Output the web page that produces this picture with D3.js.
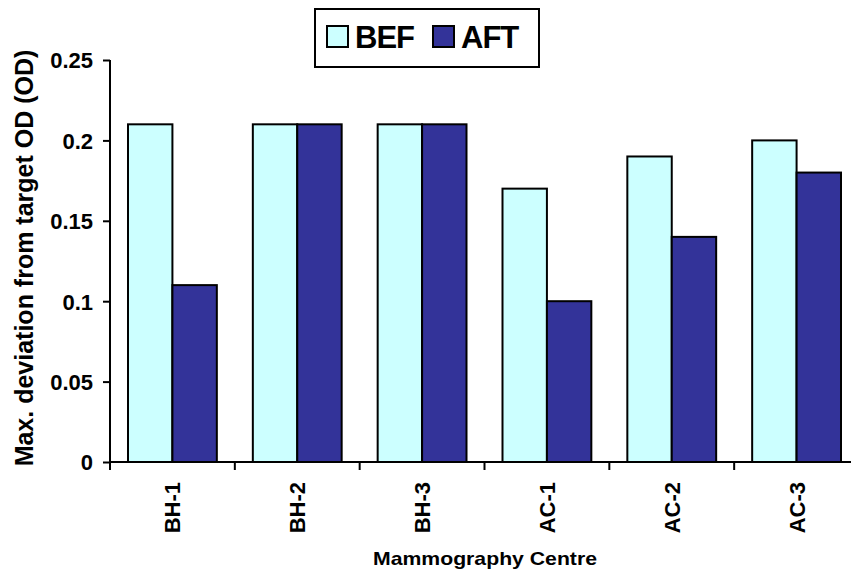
<!DOCTYPE html>
<html>
<head>
<meta charset="utf-8">
<script src="https://cdn.jsdelivr.net/npm/d3@7"></script>
<style>
  html, body { margin: 0; padding: 0; background: #fff; }
  svg { display: block; font-family: "Liberation Sans", Arial, sans-serif; font-weight: bold; }
</style>
</head>
<body>
<svg id="chart" width="851" height="569"></svg>
<script>
// Mammography centres and the maximum deviation from target optical density
const categories = ["BH-1", "BH-2", "BH-3", "AC-1", "AC-2", "AC-3"];
const seriesNames = ["BEF", "AFT"];
const befValues = [0.21, 0.21, 0.21, 0.17, 0.19, 0.20];
const aftValues = [0.11, 0.21, 0.21, 0.10, 0.14, 0.18];
const yTicks = [0, 0.05, 0.1, 0.15, 0.2, 0.25];
const yTickLabels = ["0", "0.05", "0.1", "0.15", "0.2", "0.25"];
const colors = ["#CCFFFF", "#333399"];

const rows = categories.map((c, i) => ({ cat: c, values: [befValues[i], aftValues[i]] }));

const svg = d3.select("#chart");
const plot = { left: 110, right: 859, top: 60, bottom: 462 };

const x = d3.scaleBand().domain(categories).range([plot.left, plot.right]).padding(0);
const groupPad = 18;
const xs = d3.scaleBand().domain(seriesNames)
  .range([groupPad, x.bandwidth() - groupPad]).padding(0);
const y = d3.scaleLinear().domain([0, 0.25]).range([plot.bottom, plot.top]);

// bars
const groups = svg.append("g").selectAll("g").data(rows).join("g")
  .attr("transform", d => `translate(${x(d.cat)},0)`);
groups.selectAll("rect")
  .data(d => d.values.map((v, k) => ({ name: seriesNames[k], v, k })))
  .join("rect")
  .attr("x", d => xs(d.name))
  .attr("width", xs.bandwidth())
  .attr("y", d => y(d.v))
  .attr("height", d => y(0) - y(d.v))
  .attr("fill", d => colors[d.k])
  .attr("stroke", "#000")
  .attr("stroke-width", 2);

// y axis
const yAxis = d3.axisLeft(y).tickValues(yTicks)
  .tickFormat((d, i) => yTickLabels[i]).tickSize(7).tickPadding(10);
const gy = svg.append("g").attr("transform", `translate(${plot.left},0)`).call(yAxis);
gy.select(".domain").attr("stroke", "#000").attr("stroke-width", 2)
  .attr("d", `M0,${plot.top}V${plot.bottom}`);
gy.selectAll(".tick line").attr("stroke", "#000").attr("stroke-width", 2);
gy.selectAll(".tick text").attr("fill", "#000")
  .style("font-size", "22px").style("font-weight", "bold")
  .style("font-family", "'Liberation Sans', Arial, sans-serif")
  .attr("dy", "0.36em");

// x axis: ticks on category boundaries
const gx = svg.append("g").attr("transform", `translate(0,${plot.bottom})`);
gx.append("line").attr("x1", plot.left).attr("x2", plot.right)
  .attr("stroke", "#000").attr("stroke-width", 2);
const bounds = categories.map(c => x(c)).concat([x(categories[categories.length - 1]) + x.bandwidth()]);
gx.selectAll(".bt").data(bounds).join("line").attr("class", "bt")
  .attr("x1", d => d).attr("x2", d => d).attr("y1", 0).attr("y2", 8)
  .attr("stroke", "#000").attr("stroke-width", 2);
gx.selectAll(".cl").data(categories).join("text").attr("class", "cl")
  .attr("transform", d => `translate(${x(d) + x.bandwidth() / 2},20) rotate(-90)`)
  .attr("text-anchor", "end").attr("dy", "0.36em")
  .style("font-size", "22px").text(d => d);

// axis titles
svg.append("text")
  .attr("transform", `translate(33,258) rotate(-90)`)
  .attr("text-anchor", "middle")
  .style("font-size", "25px")
  .text("Max. deviation from target OD (OD)");
svg.append("text")
  .attr("x", 485).attr("y", 565)
  .attr("text-anchor", "middle")
  .style("font-size", "19px")
  .attr("textLength", 224).attr("lengthAdjust", "spacingAndGlyphs")
  .text("Mammography Centre");

// legend
const lg = svg.append("g");
lg.append("rect").attr("x", 315).attr("y", 9).attr("width", 224).attr("height", 58)
  .attr("fill", "#fff").attr("stroke", "#000").attr("stroke-width", 2);
const legendX = [327, 433];
seriesNames.forEach((name, k) => {
  lg.append("rect").attr("x", legendX[k]).attr("y", 26).attr("width", 21).attr("height", 21)
    .attr("fill", colors[k]).attr("stroke", "#000").attr("stroke-width", 2);
  lg.append("text").attr("x", legendX[k] + 28).attr("y", 48)
    .style("font-size", "31px").style("letter-spacing", "-1px").text(name);
});
</script>
</body>
</html>
